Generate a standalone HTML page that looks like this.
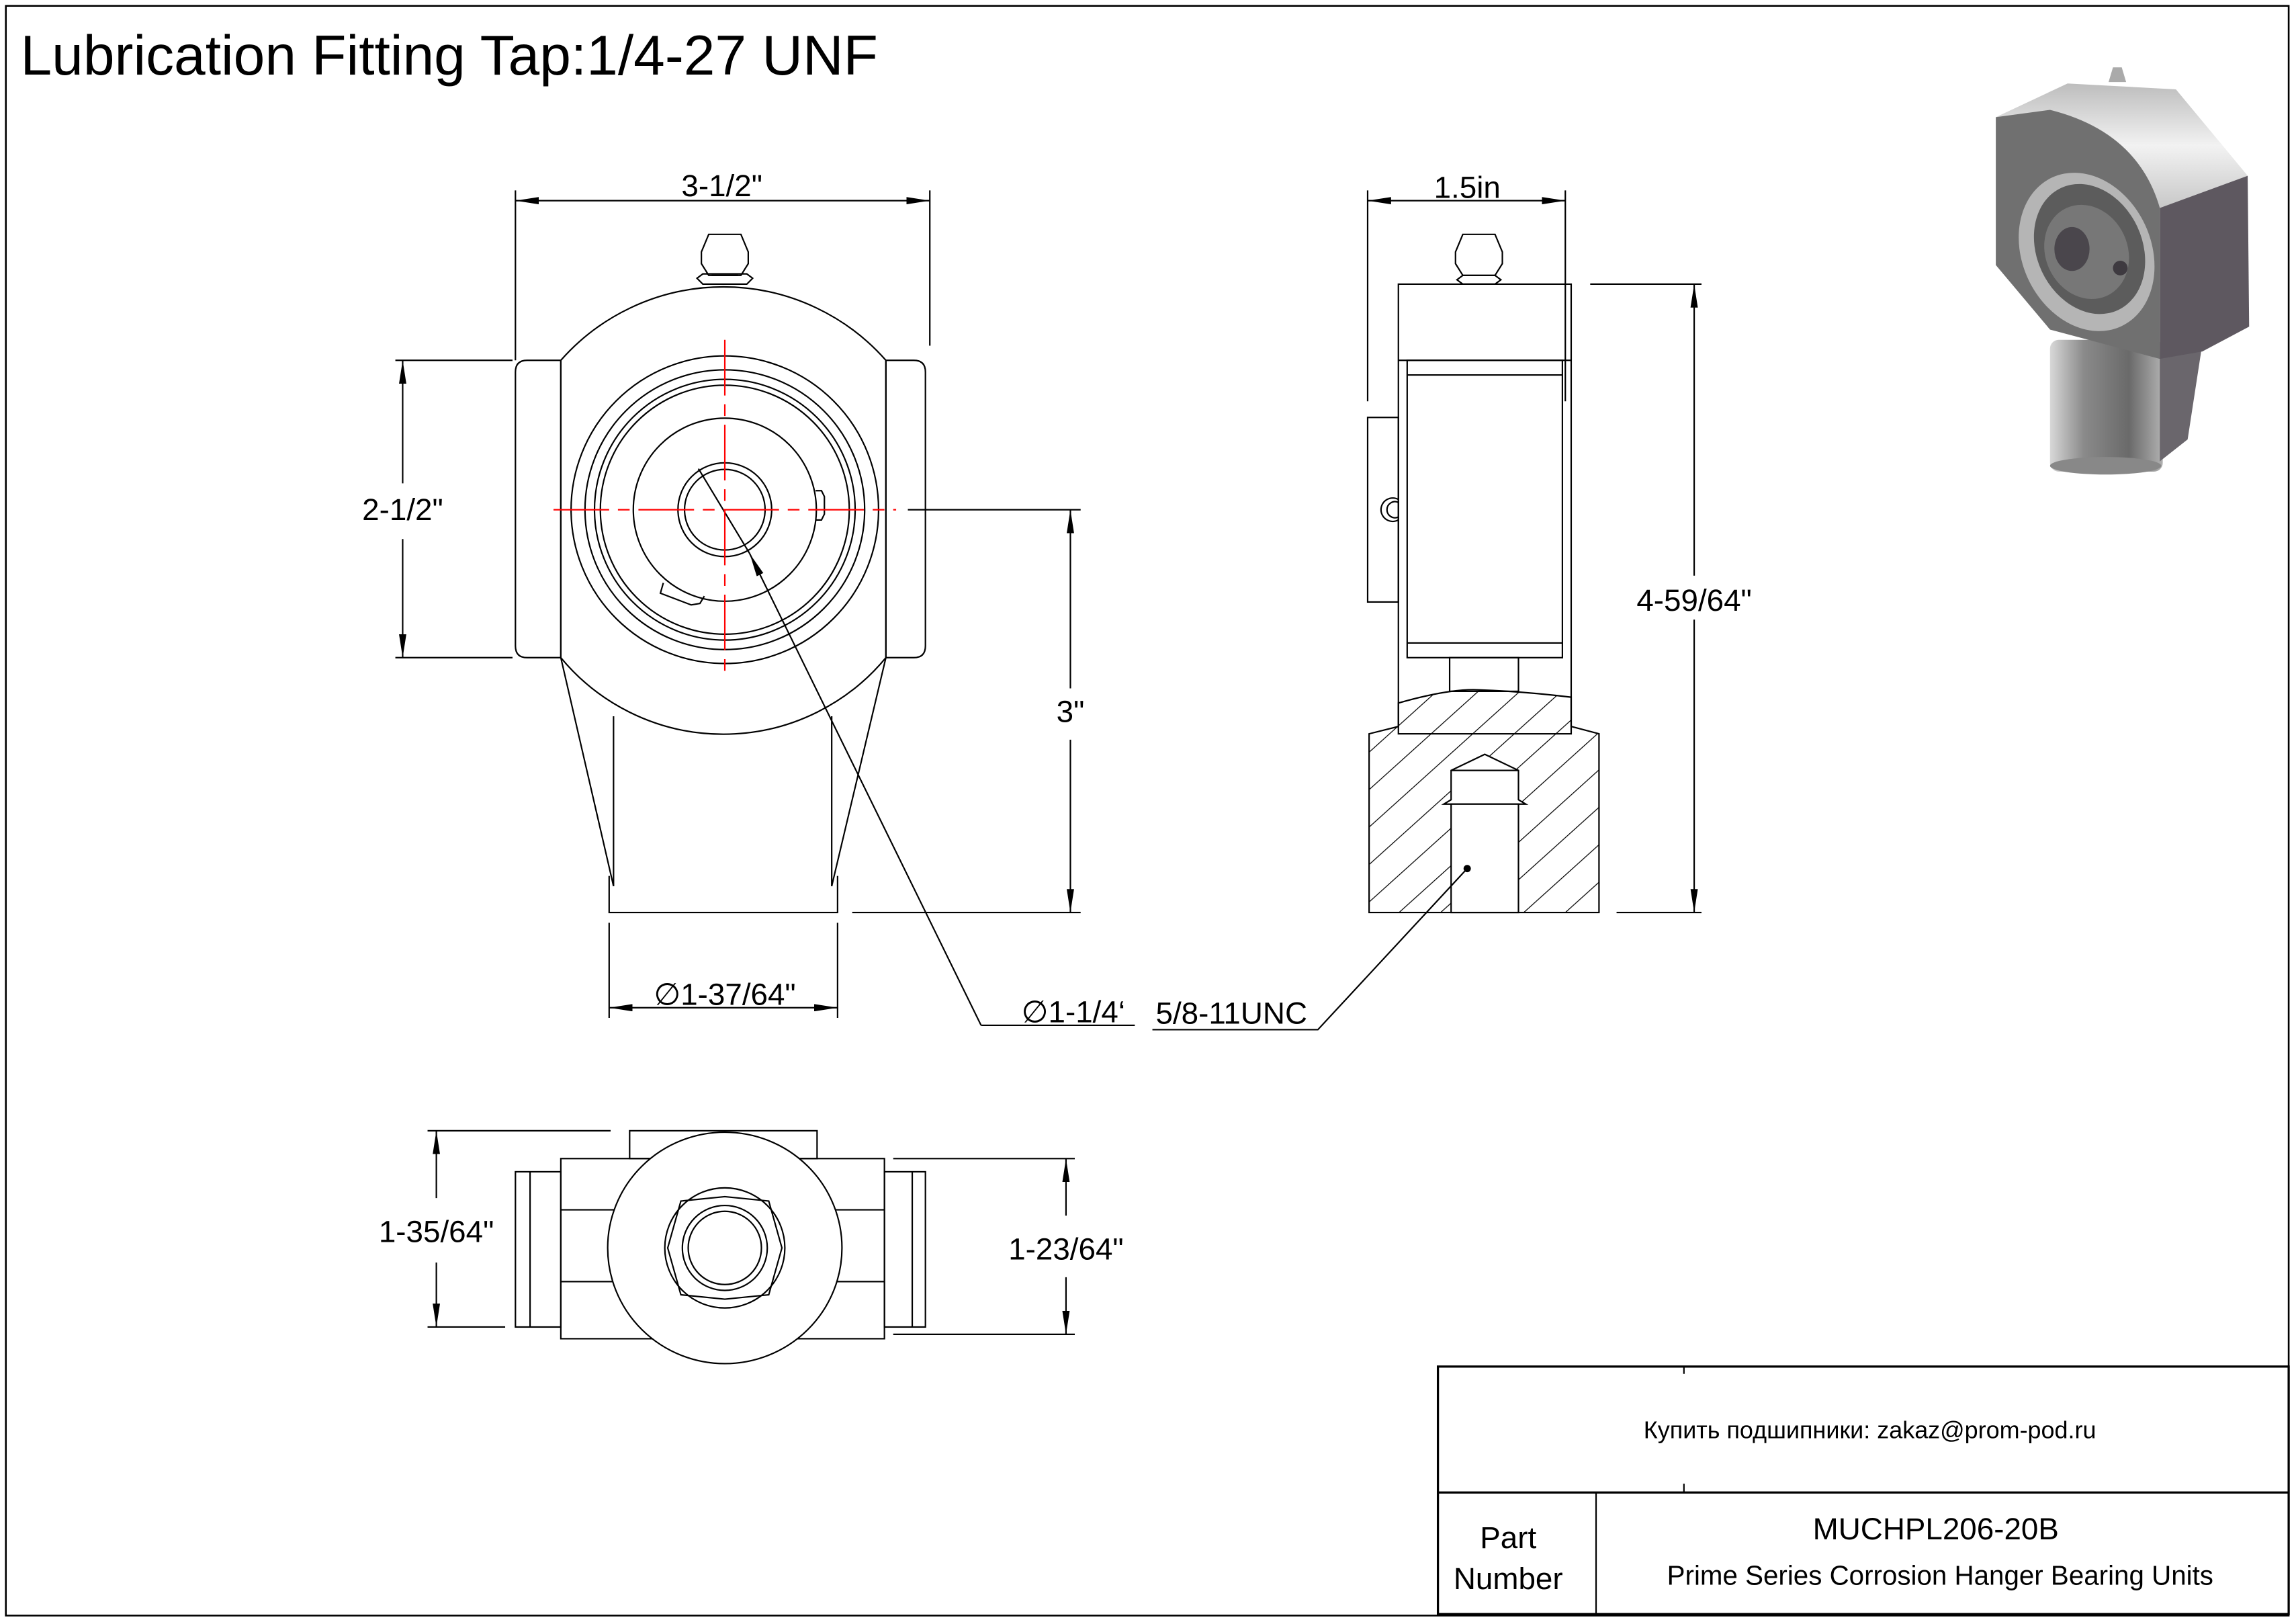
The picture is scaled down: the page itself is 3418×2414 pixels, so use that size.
<!DOCTYPE html>
<html><head><meta charset="utf-8"><style>html,body{margin:0;padding:0;background:#fff}svg{display:block}text{font-family:"Liberation Sans","DejaVu Sans",sans-serif;fill:#000}</style></head><body>
<svg width="3418" height="2414" viewBox="0 0 1568 1107.4" preserveAspectRatio="none" xmlns="http://www.w3.org/2000/svg">
<defs>
<marker id="b" viewBox="0 0 16 5" refX="16" refY="2.5" markerWidth="16" markerHeight="5" orient="auto-start-reverse" markerUnits="userSpaceOnUse"><path d="M0,0 L16,2.5 L0,5z" fill="#000"/></marker>
<pattern id="h" width="19" height="19" patternUnits="userSpaceOnUse" patternTransform="rotate(-42)"><line x1="0" y1="0" x2="19" y2="0" stroke="#000" stroke-width="1.1"/></pattern>
<linearGradient id="cyl" x1="0" x2="1"><stop offset="0" stop-color="#d8d8d8"/><stop offset=".3" stop-color="#8a8a8a"/><stop offset=".7" stop-color="#6a6a6a"/><stop offset="1" stop-color="#b0b0b0"/></linearGradient>
<linearGradient id="top" x1="0" x2="0" y1="0" y2="1"><stop offset="0" stop-color="#bdbdbd"/><stop offset=".5" stop-color="#f2f2f2"/><stop offset="1" stop-color="#c8c8c8"/></linearGradient>
</defs>
<rect x="4" y="4" width="1559" height="1099" fill="none" stroke="#000" stroke-width="1.2"/>
<text x="14" y="51" font-size="38.5">Lubrication Fitting Tap:1/4-27 UNF</text>

<g fill="none" stroke="#000" stroke-width="1">
<path d="M383,246 A148,148 0 0 1 605,246"/>
<path d="M383,449 A144,144 0 0 0 605,449"/>
<path d="M383,246 H360 Q352,246 352,254 V441 Q352,449 360,449 H383 Z"/>
<path d="M605,246 H624 Q632,246 632,254 V441 Q632,449 624,449 H605 Z"/>
<line x1="383" y1="246" x2="383" y2="449"/><line x1="605" y1="246" x2="605" y2="449"/>
<circle cx="495" cy="348" r="105"/><circle cx="495" cy="348" r="95.5"/><circle cx="495" cy="348" r="89"/><circle cx="495" cy="348" r="85"/><circle cx="495" cy="348" r="62.5"/><circle cx="495" cy="348" r="32"/><circle cx="495" cy="348" r="27.5"/>
<path d="M557,335 h4 l2,4 v12 l-2,4 h-4"/>
<path d="M453,398 l-2,7 l21,8 l6,-1 l3,-5"/>
<path d="M383,449 L419,605 M605,449 L568,605"/>
<path d="M419,489 V605 M568,489 V605"/>
<path d="M416,598 V623 H572 V598"/>
<path d="M484,160 h22 l5,12 v8 l-5,8 h-22 l-5,-8 v-8 z"/>
<path d="M476,190 l4,-3 h30 l4,3 l-4,4 h-30 z"/>
<line x1="486" y1="188" x2="504" y2="188"/>
<line x1="352" y1="130" x2="352" y2="246"/><line x1="635" y1="130" x2="635" y2="236"/>
<line x1="352" y1="137" x2="635" y2="137" marker-start="url(#b)" marker-end="url(#b)"/>
<line x1="270" y1="246" x2="350" y2="246"/><line x1="270" y1="449" x2="350" y2="449"/>
<line x1="275" y1="246" x2="275" y2="330" marker-start="url(#b)"/><line x1="275" y1="368" x2="275" y2="449" marker-end="url(#b)"/>
<line x1="620" y1="348" x2="738" y2="348"/><line x1="582" y1="623" x2="738" y2="623"/>
<line x1="731" y1="348" x2="731" y2="470" marker-start="url(#b)"/><line x1="731" y1="505" x2="731" y2="623" marker-end="url(#b)"/>
<line x1="416" y1="630" x2="416" y2="695"/><line x1="572" y1="630" x2="572" y2="695"/>
<line x1="416" y1="688" x2="572" y2="688" marker-start="url(#b)" marker-end="url(#b)"/>
<path d="M670,700 L512,378" marker-end="url(#b)"/><line x1="512" y1="378" x2="477" y2="320"/>
<line x1="670" y1="700" x2="775" y2="700"/>

<rect x="955" y="194" width="118" height="307"/>
<line x1="955" y1="246" x2="1073" y2="246"/>
<rect x="961" y="246" width="106" height="203"/>
<line x1="961" y1="256" x2="1067" y2="256"/><line x1="961" y1="439" x2="1067" y2="439"/>
<rect x="934" y="285" width="21" height="126"/>
<path d="M955,341 a8,8 0 1 0 0,14"/><path d="M955,343 a5.5,5.5 0 1 0 0,10"/>
<rect x="990" y="449" width="47" height="23"/>
<path d="M999,160 h22 l5,12 v8 l-5,8 h-22 l-5,-8 v-8 z"/>
<path d="M995,191 l4,-3 h22 l4,3 l-4,3 h-22 z"/>
<path d="M935,501 L955,496 V480 Q990,470 1010,471 Q1040,472 1073,476 V496 L1092,501 V623 H935 Z" fill="url(#h)"/>
<path d="M991,526 L1014,515 L1037,526 V546 L1042,549 H986 L991,546 Z" fill="#fff"/>
<rect x="991" y="549" width="46" height="74" fill="#fff"/>
<line x1="991" y1="526" x2="1037" y2="526"/>
<line x1="934" y1="130" x2="934" y2="274"/><line x1="1069" y1="130" x2="1069" y2="274"/>
<line x1="934" y1="137" x2="1069" y2="137" marker-start="url(#b)" marker-end="url(#b)"/>
<line x1="1086" y1="194" x2="1162" y2="194"/><line x1="1104" y1="623" x2="1162" y2="623"/>
<line x1="1157" y1="194" x2="1157" y2="393" marker-start="url(#b)"/><line x1="1157" y1="423" x2="1157" y2="623" marker-end="url(#b)"/>
<polyline points="1002,593 900,703 787,703"/>

<rect x="352" y="800" width="31" height="106"/><line x1="362" y1="800" x2="362" y2="906"/>
<rect x="604" y="800" width="28" height="106"/><line x1="623" y1="800" x2="623" y2="906"/>
<rect x="383" y="791" width="221" height="123"/>
<line x1="383" y1="826" x2="604" y2="826"/><line x1="383" y1="875" x2="604" y2="875"/>
<rect x="430" y="772" width="128" height="19"/>
<ellipse cx="495" cy="852" rx="80" ry="79" fill="#fff"/>
<circle cx="495" cy="852" r="41"/>
<polygon points="495,813 527,822 530,852 527,882 495,891 463,882 460,852 463,822" transform="rotate(90 495 852)"/>
<circle cx="495" cy="852" r="29"/><circle cx="495" cy="852" r="25"/>
<line x1="292" y1="772" x2="417" y2="772"/><line x1="292" y1="906" x2="345" y2="906"/>
<line x1="298" y1="772" x2="298" y2="818" marker-start="url(#b)"/><line x1="298" y1="862" x2="298" y2="906" marker-end="url(#b)"/>
<line x1="610" y1="791" x2="734" y2="791"/><line x1="610" y1="911" x2="734" y2="911"/>
<line x1="728" y1="791" x2="728" y2="830" marker-start="url(#b)"/><line x1="728" y1="872" x2="728" y2="911" marker-end="url(#b)"/>

<rect x="982" y="933" width="581" height="169" stroke-width="1.5"/>
<line x1="982" y1="1019" x2="1563" y2="1019" stroke-width="1.5"/>
<line x1="1090" y1="1019" x2="1090" y2="1102"/>
<line x1="1150" y1="933" x2="1150" y2="938"/><line x1="1150" y1="1013" x2="1150" y2="1019"/>
</g>
<circle cx="1002" cy="593" r="2.5" fill="#000"/>
<g stroke="#f00" stroke-width="1" stroke-dasharray="38,6,8,6">
<line x1="378" y1="348" x2="612" y2="348"/><line x1="495" y1="232" x2="495" y2="463"/>
</g>

<g font-size="21" text-anchor="middle">
<text x="493" y="134">3-1/2"</text>
<text x="275" y="355">2-1/2"</text>
<text x="731" y="493">3"</text>
<text x="495" y="686">∅1-37/64"</text>
<text x="733" y="698">∅1-1/4‘</text>
<text x="841" y="699">5/8-11UNC</text>
<text x="1002" y="135">1.5in</text>
<text x="1157" y="417">4-59/64"</text>
<text x="298" y="848">1-35/64"</text>
<text x="728" y="860">1-23/64"</text>
<text x="1277" y="982" font-size="16.5" font-family="DejaVu Sans">Купить подшипники: zakaz@prom-pod.ru</text>
<text x="1322" y="1051">MUCHPL206-20B</text>
<text x="1325" y="1082" font-size="18.5">Prime Series Corrosion Hanger Bearing Units</text>
<text x="1030" y="1057">Part</text>
<text x="1030" y="1085">Number</text>
</g>

<g>
<rect x="1400" y="232" width="77" height="90" rx="6" fill="url(#cyl)"/>
<ellipse cx="1438" cy="318" rx="38" ry="6" fill="#888"/>
<polygon points="1475,240 1504,235 1494,300 1475,315" fill="#6a666c"/>
<polygon points="1363,80 1412,57 1486,61 1535,120 1475,142" fill="url(#top)"/>
<polygon points="1475,142 1535,120 1536,223 1504,240 1475,245" fill="#5e5860"/>
<path d="M1363,80 L1400,75 Q1460,90 1475,142 V245 L1400,225 L1363,181 Z" fill="#707070"/>
<ellipse cx="1425" cy="172" rx="44" ry="56" fill="#b5b5b5" transform="rotate(-25 1425 172)"/>
<ellipse cx="1427" cy="170" rx="36" ry="46" fill="#5c5c5c" transform="rotate(-25 1427 170)"/>
<ellipse cx="1425" cy="172" rx="28" ry="33" fill="#777" transform="rotate(-25 1425 172)"/>
<ellipse cx="1415" cy="170" rx="12" ry="15" fill="#4a464c"/>
<circle cx="1448" cy="183" r="5" fill="#3e3a40"/>
<path d="M1440,56 l3,-10 h6 l3,10 z" fill="#aaa"/>
</g>
</svg>
</body></html>
